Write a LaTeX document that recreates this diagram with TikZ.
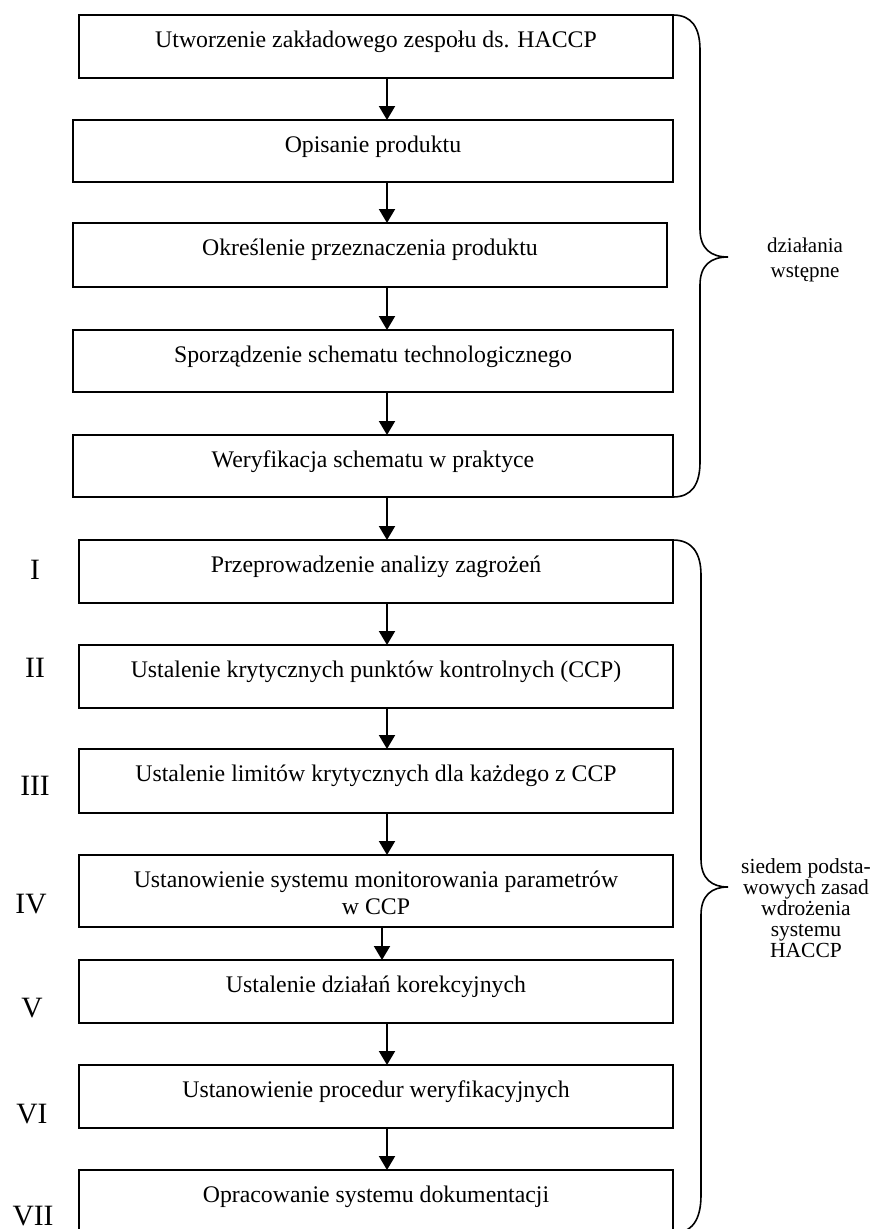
\documentclass[tikz,border=0pt]{standalone}
\usepackage{fontspec}
\setmainfont{Liberation Serif}
\usetikzlibrary{arrows.meta}
\begin{document}
\begin{tikzpicture}[x=1pt,y=-1pt,
  stage/.style={draw, line width=2pt, inner sep=0pt, outer sep=0pt,
    anchor=north west, minimum width=594pt,
    text height=32pt, text depth=31pt,
    font=\fontsize{23.8}{27}\selectfont},
  flow/.style={line width=2pt, -{Triangle[length=14pt,width=16pt]}},
  brace/.style={line width=1.6pt},
  numeral/.style={anchor=base, inner sep=0pt, font=\fontsize{29.5}{34}\selectfont},
  side/.style={anchor=base, inner sep=0pt, font=\fontsize{21}{25}\selectfont},
  sidetight/.style={anchor=base, inner sep=0pt, font=\fontsize{21.5}{21}\selectfont}]

\useasboundingbox (0,0) rectangle (884,1229);

% preliminary steps
\node[stage] (b1) at (79,15) {Utworzenie zakładowego zespołu ds. HACCP};
\node[stage, minimum width=600pt, text depth=30pt] (b2) at (73,120) {Opisanie produktu};
\node[stage, text depth=32pt] (b3) at (73,223) {Określenie przeznaczenia produktu};
\node[stage, minimum width=600pt, text depth=30pt] (b4) at (73,330) {Sporządzenie schematu technologicznego};
\node[stage, minimum width=600pt, text depth=30pt] (b5) at (73,435) {Weryfikacja schematu w praktyce};

% the seven principles
\node[stage] (b6) at (79,540) {Przeprowadzenie analizy zagrożeń};
\node[stage] (b7) at (79,645) {Ustalenie krytycznych punktów kontrolnych (CCP)};
\node[stage, text depth=32pt] (b8) at (79,749) {Ustalenie limitów krytycznych dla każdego z CCP};
\node[stage, text depth=40pt] (b9) at (79,855) {\begin{tabular}[t]{@{}c@{}}Ustanowienie systemu monitorowania parametrów\\w CCP\end{tabular}};
\node[stage] (b10) at (79,960) {Ustalenie działań korekcyjnych};
\node[stage] (b11) at (79,1065) {Ustanowienie procedur weryfikacyjnych};
\node[stage] (b12) at (79,1170) {Opracowanie systemu dokumentacji};

% roman numerals
\node[numeral] (r1) at (35,579) {I};
\node[numeral] (r2) at (35,677) {II};
\node[numeral] (r3) at (35,795) {III};
\node[numeral] (r4) at (31,913) {IV};
\node[numeral] (r5) at (32,1017) {V};
\node[numeral] (r6) at (32,1123) {VI};
\node[numeral] (r7) at (33,1225) {VII};

% arrows between steps
\coordinate (ax) at (387,0);
\coordinate (bx) at (382,0);
\draw[flow] (b1.south -| ax) -- (b2.north -| ax);
\draw[flow] (b2.south -| ax) -- (b3.north -| ax);
\draw[flow] (b3.south -| ax) -- (b4.north -| ax);
\draw[flow] (b4.south -| ax) -- (b5.north -| ax);
\draw[flow] (b5.south -| ax) -- (b6.north -| ax);
\draw[flow] (b6.south -| ax) -- (b7.north -| ax);
\draw[flow] (b7.south -| ax) -- (b8.north -| ax);
\draw[flow] (b8.south -| ax) -- (b9.north -| ax);
\draw[flow] (b9.south -| bx) -- (b10.north -| bx);
\draw[flow] (b10.south -| ax) -- (b11.north -| ax);
\draw[flow] (b11.south -| ax) -- (b12.north -| ax);

% braces
\draw[brace] (b1.north east) .. controls (692,15) and (700,28) .. (700,50)
  -- (700,229) .. controls (700,249) and (711,257) .. (728,257)
  .. controls (711,257) and (700,265) .. (700,285)
  -- (700,462) .. controls (700,484) and (692,497) .. (b5.south east);
\draw[brace] (b6.north east) .. controls (692,540) and (701,553) .. (701,575)
  -- (701,859) .. controls (701,879) and (712,887) .. (728,887)
  .. controls (712,887) and (701,895) .. (701,915)
  -- (701,1195) .. controls (701,1220) and (692,1233) .. (b12.south east);

% brace labels
\node[side] (l1) at (805,252) {\begin{tabular}[t]{@{}c@{}}działania\\wstępne\end{tabular}};
\node[sidetight] (l2) at (806,873) {\begin{tabular}[t]{@{}c@{}}siedem podsta-\\wowych zasad\\wdrożenia\\systemu\\HACCP\end{tabular}};
\end{tikzpicture}
\end{document}
